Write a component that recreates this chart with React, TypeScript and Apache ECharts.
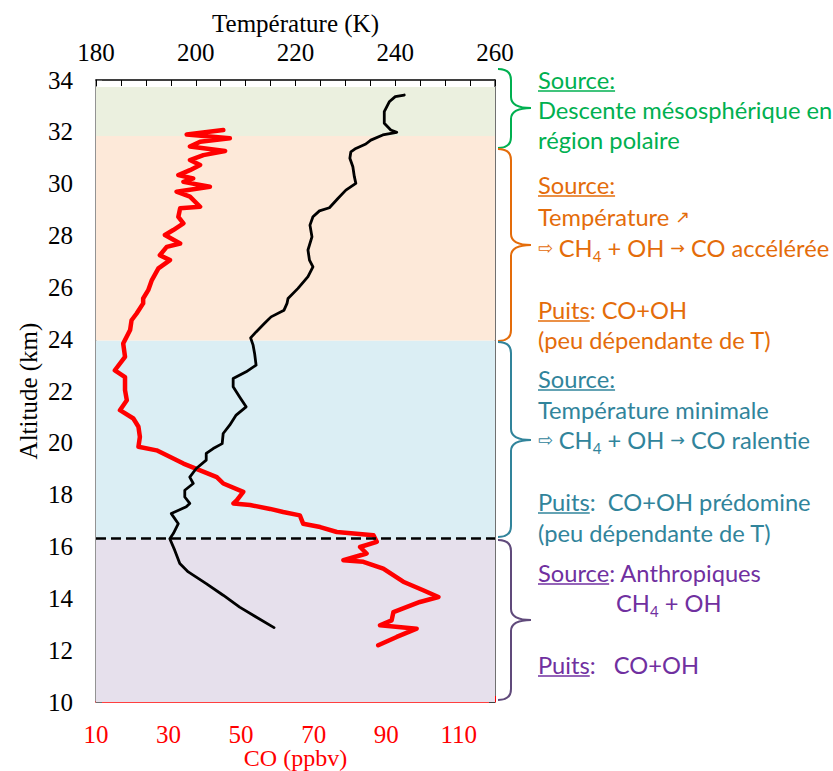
import React, { useEffect, useRef } from "react";
import * as echarts from "echarts";

// ---------------- data ----------------
const temperatureAltitudeKm = [
  33.42, 33.36, 33.16, 32.78, 32.33, 32.07, 31.98, 31.88, 31.68, 31.53, 31.36, 31.23,
  30.98, 30.65, 30.27, 30.01, 29.75, 29.43, 29.07, 28.95, 28.72, 28.4, 27.95, 27.44,
  27.05, 26.79, 26.41, 25.96, 25.57, 25.38, 25.12, 24.86, 24.61, 24.28, 24.05, 23.77,
  23.45, 23.0, 22.74, 22.48, 22.16, 21.77, 21.39, 21.07, 20.68, 20.36, 19.97, 19.78,
  19.59, 19.33, 19.01, 18.68, 18.43, 18.17, 17.91, 17.66, 17.53, 17.27, 16.88, 16.5,
  16.3, 15.85, 15.34, 15.02, 14.57, 14.12, 13.66, 13.28, 12.87,
];
const temperatureK = [
  241.8, 240.0, 238.8, 237.8, 237.8, 239.1, 240.3, 237.5, 235.1, 234.1, 232.1, 231.1,
  230.9, 231.5, 231.8, 232.1, 230.1, 228.5, 226.8, 224.8, 223.5, 222.9, 223.3, 222.5,
  222.8, 223.5, 222.5, 220.5, 218.5, 218.3, 217.7, 215.1, 213.8, 212.1, 211.0, 211.5,
  211.8, 212.1, 210.1, 207.5, 207.5, 208.8, 210.1, 208.1, 206.8, 205.5, 205.3, 203.5,
  202.1, 202.1, 200.1, 198.8, 199.5, 197.8, 197.8, 198.8, 198.1, 195.1, 196.5, 195.5,
  194.8, 195.8, 196.8, 198.5, 202.1, 205.5, 208.8, 212.1, 215.7,
];
const coAltitudeKm = [
  32.07, 31.9, 31.75, 31.62, 31.43, 31.26, 31.1, 30.91, 30.72, 30.52, 30.33, 30.2, 30.07,
  29.88, 29.69, 29.5, 29.11, 29.05, 28.72, 28.47, 28.21, 28.02, 27.69, 27.56, 27.24,
  27.05, 26.73, 26.28, 25.89, 25.57, 25.38, 24.99, 24.73, 24.35, 23.83, 23.32, 22.8,
  22.54, 22.03, 21.64, 21.26, 20.94, 20.62, 20.23, 19.85, 19.71, 19.52, 19.2, 18.94,
  18.68, 18.43, 18.11, 17.78, 17.66, 17.6, 17.45, 17.33, 17.2, 16.88, 16.75, 16.56,
  16.43, 16.18, 15.98, 15.73, 15.47, 15.41, 15.15, 14.64, 14.31, 14.05, 13.86, 13.47,
  13.15, 12.96, 12.83, 12.51, 12.19,
];
const coPpbv = [
  45.1, 35.0, 46.9, 38.7, 35.9, 45.6, 39.6, 35.9, 38.7, 35.9, 32.7, 36.8, 34.1,
  41.4, 32.2, 35.9, 38.7, 33.2, 32.7, 34.1, 31.3, 29.0, 33.2, 29.5, 27.6,
  30.4, 27.2, 25.4, 24.4, 23.0, 23.0, 21.2, 19.8, 19.4, 17.5, 18.0, 15.2,
  18.0, 18.0, 18.5, 16.6, 20.3, 21.7, 22.1, 21.7, 26.7, 29.5, 34.1, 38.7,
  43.3, 45.1, 50.6, 48.8, 47.9, 52.5, 58.0, 61.6, 66.2, 67.1, 71.8, 76.4,
  86.5, 87.4, 82.8, 84.6, 78.2, 83.7, 89.2, 94.7, 100.2, 104.4, 99.3, 92.0,
  91.5, 88.3, 98.4, 92.9, 87.8,
];
const bandBottomKm = [10, 16.27, 23.95, 31.84];
const bandTopKm = [16.27, 23.95, 31.84, 33.73];
const tropopauseKm = 16.33;

const temperatureTickLabels = [180, 200, 220, 240, 260];
const coTickLabels = [10, 30, 50, 70, 90, 110];

type Part = { t: string; u?: boolean; sub?: boolean; a?: boolean };
const annotationLines: { group: number; indent?: boolean; parts: Part[] }[] = [
  { group: 0, parts: [{ t: "Source:", u: true }] },
  { group: 0, parts: [{ t: "Descente mésosphérique en" }] },
  { group: 0, parts: [{ t: "région polaire" }] },
  { group: 1, parts: [{ t: "Source:", u: true }] },
  { group: 1, parts: [{ t: "Température " }, { t: "↗", a: true }] },
  {
    group: 1,
    parts: [
      { t: "⇨", a: true }, { t: " CH" }, { t: "4", sub: true }, { t: " + OH " },
      { t: "→", a: true }, { t: " CO accélérée" },
    ],
  },
  { group: 1, parts: [{ t: "Puits", u: true }, { t: ": CO+OH" }] },
  { group: 1, parts: [{ t: "(peu dépendante de T)" }] },
  { group: 2, parts: [{ t: "Source:", u: true }] },
  { group: 2, parts: [{ t: "Température minimale" }] },
  {
    group: 2,
    parts: [
      { t: "⇨", a: true }, { t: " CH" }, { t: "4", sub: true }, { t: " + OH " },
      { t: "→", a: true }, { t: " CO ralentie" },
    ],
  },
  { group: 2, parts: [{ t: "Puits", u: true }, { t: ":  CO+OH prédomine" }] },
  { group: 2, parts: [{ t: "(peu dépendante de T)" }] },
  { group: 3, parts: [{ t: "Source", u: true }, { t: ": Anthropiques" }] },
  { group: 3, indent: true, parts: [{ t: "CH" }, { t: "4", sub: true }, { t: " + OH" }] },
  { group: 3, parts: [{ t: "Puits", u: true }, { t: ":   CO+OH" }] },
];

// ---------------- layout / styles ----------------
const SERIF = "'Liberation Serif', 'Times New Roman', serif";
const SANS = "Lato, 'Noto Sans', sans-serif";
const ARROW_FONT = "'DejaVu Sans', sans-serif";
const AXIS_FS = 25;
const bandColors = ["#E6E0EC", "#DBEEF4", "#FDE9D9", "#EBF0DF"];
const textColors = ["#00B050", "#E46C0A", "#31849B", "#7030A0"];
const braceColors = ["#00B050", "#E46C0A", "#31849B", "#604A7B"];
const annotationLineY = [80, 110, 140, 185, 217, 248, 310, 340, 379, 410, 440, 502, 533, 573, 603, 665];
const braceTop = [69, 149, 342, 540];
const braceMid = [108, 245, 440, 620];
const braceBottom = [148, 341, 537, 700];
const TEXT_X = 538;
const INDENT_X = 616;
const MAX_LINE_W = 292;

export default function App() {
  const ref = useRef<HTMLDivElement>(null);

  useEffect(() => {
    const el = ref.current!;
    const chart = echarts.init(el, null, { renderer: "svg" });

    const ctx = document.createElement("canvas").getContext("2d")!;
    const measure = (t: string, size: number, family = "Lato") => {
      ctx.font = `${size}px ${family}`;
      return ctx.measureText(t).width;
    };
    const fs = Math.round(((100 * 294) / measure("Descente mésosphérique en", 100)) * 10) / 10;
    const subFs = Math.round(fs * 0.62);
    const partWidth = (p: Part, aFs: number) =>
      p.sub ? measure(p.t, subFs) : p.a ? measure(p.t, aFs, "'DejaVu Sans'") : measure(p.t, fs);
    // largest arrow size for which every line holding an arrow fits
    const arrowLines = annotationLines.filter((l) => l.parts.some((p) => p.a));
    let arrowFs = Math.round(fs * 0.9);
    const widest = () =>
      Math.max(...arrowLines.map((l) => l.parts.reduce((s, p) => s + partWidth(p, arrowFs), 0)));
    while (arrowFs > 12 && widest() > MAX_LINE_W) arrowFs -= 0.5;

    // braces
    const x0 = 498, xm = 511, xp = 531, r = 11;
    const graphics: any[] = [];
    braceTop.forEach((t, i) => {
      const m = braceMid[i], b = braceBottom[i];
      const d = `M ${x0} ${t} Q ${xm} ${t} ${xm} ${t + r} L ${xm} ${m - r} Q ${xm} ${m} ${xp} ${m} Q ${xm} ${m} ${xm} ${m + r} L ${xm} ${b - r} Q ${xm} ${b} ${x0} ${b}`;
      const name = `brace${i}`;
      echarts.graphic.registerShape(name, echarts.graphic.extendPath(d, {}));
      graphics.push({
        type: name,
        silent: true,
        style: { stroke: braceColors[i], fill: "none", lineWidth: 2 },
      });
    });

    annotationLines.forEach((line, i) => {
      const color = textColors[line.group];
      const x = line.indent ? INDENT_X : TEXT_X;
      const y = annotationLineY[i];
      const text = line.parts.map((p) => `{${p.sub ? "s" : p.a ? "a" : "n"}|${p.t}}`).join("");
      graphics.push({
        type: "text",
        x,
        y,
        silent: true,
        style: {
          text,
          fill: color,
          align: "left",
          verticalAlign: "middle",
          textAlign: "left",
          textVerticalAlign: "middle",
          fontFamily: SANS,
          fontSize: fs,
          rich: {
            n: { fontFamily: SANS, fontSize: fs, lineHeight: 30, color, verticalAlign: "middle" },
            a: { fontFamily: ARROW_FONT, fontSize: arrowFs, lineHeight: 30, color, verticalAlign: "middle" },
            s: { fontFamily: SANS, fontSize: subFs, lineHeight: 14, color, verticalAlign: "bottom" },
          },
        },
      });
      let offset = 0;
      line.parts.forEach((p) => {
        const w = partWidth(p, arrowFs);
        if (p.u) {
          graphics.push({
            type: "line",
            silent: true,
            shape: { x1: x + offset, y1: y + 11, x2: x + offset + w, y2: y + 11 },
            style: { stroke: color, lineWidth: 1.5 },
          });
        }
        offset += w;
      });
    });

    const option: any = {
      animation: false,
      backgroundColor: "#ffffff",
      grid: {
        left: 96,
        right: 338,
        top: 80,
        bottom: 69,
        containLabel: false,
        outerBoundsMode: "none",
      },
      xAxis: [
        {
          type: "value",
          position: "top",
          min: 180,
          max: 260,
          interval: 20,
          name: "Température (K)",
          nameLocation: "middle",
          nameGap: 44,
          nameMoveOverlap: false,
          nameTextStyle: { fontFamily: SERIF, fontSize: AXIS_FS, color: "#000" },
          axisLine: { show: true, lineStyle: { color: "#000", width: 1.5 } },
          axisTick: { show: true, inside: true, length: 6, lineStyle: { color: "#000", width: 1 } },
          minorTick: { show: true, splitNumber: 4, length: 6, lineStyle: { color: "#000", width: 1 } },
          axisLabel: {
            fontFamily: SERIF,
            fontSize: AXIS_FS,
            color: "#000",
            margin: 15,
            formatter: (v: number) => (temperatureTickLabels.includes(v) ? String(v) : ""),
          },
          splitLine: { show: false },
        },
        {
          type: "value",
          position: "bottom",
          min: 10,
          max: 120,
          interval: 5,
          name: "CO (ppbv)",
          nameLocation: "middle",
          nameGap: 45,
          nameMoveOverlap: false,
          nameTextStyle: { fontFamily: SERIF, fontSize: 24, lineHeight: 22, color: "#FF0000" },
          axisLine: { show: true, lineStyle: { color: "#FF0000", width: 1.5 } },
          axisTick: { show: true, inside: true, length: 6, lineStyle: { color: "#FF0000", width: 1 } },
          axisLabel: {
            fontFamily: SERIF,
            fontSize: AXIS_FS,
            lineHeight: 24,
            color: "#FF0000",
            margin: 20,
            formatter: (v: number) => (coTickLabels.includes(v) ? String(v) : ""),
          },
          splitLine: { show: false },
        },
      ],
      yAxis: [
        {
          type: "value",
          position: "left",
          min: 10,
          max: 34,
          interval: 2,
          name: "Altitude (km)",
          nameLocation: "middle",
          nameGap: 55,
          nameMoveOverlap: false,
          nameTextStyle: { fontFamily: SERIF, fontSize: AXIS_FS, color: "#000" },
          axisLine: { show: true, lineStyle: { color: "#6f6f6f", width: 1.5 } },
          axisTick: { show: true, inside: true, length: 6, lineStyle: { color: "#6f6f6f", width: 1 } },
          minorTick: { show: true, splitNumber: 4, length: 6, lineStyle: { color: "#6f6f6f", width: 1 } },
          axisLabel: { fontFamily: SERIF, fontSize: AXIS_FS, color: "#000", margin: 23 },
          splitLine: { show: false },
        },
        {
          type: "value",
          position: "right",
          min: 10,
          max: 34,
          interval: 2,
          axisLine: { show: true, lineStyle: { color: "#404040", width: 1.5 } },
          axisTick: { show: true, inside: true, length: 6, lineStyle: { color: "#404040", width: 1 } },
          minorTick: { show: true, splitNumber: 4, length: 6, lineStyle: { color: "#404040", width: 1 } },
          axisLabel: { show: false },
          splitLine: { show: false },
        },
      ],
      series: [
        {
          type: "line",
          name: "bands",
          xAxisIndex: 1,
          yAxisIndex: 0,
          z: 1,
          silent: true,
          showSymbol: false,
          lineStyle: { width: 0, opacity: 0 },
          data: [[10, 10]],
          markArea: {
            silent: true,
            data: bandBottomKm.map((lo, i) => [
              { yAxis: lo, itemStyle: { color: bandColors[i], opacity: 1 } },
              { yAxis: bandTopKm[i] },
            ]),
          },
        },
        {
          type: "line",
          name: "CO",
          xAxisIndex: 1,
          yAxisIndex: 0,
          z: 3,
          showSymbol: false,
          lineStyle: { color: "#FF0000", width: 4.5, join: "round", cap: "round" },
          data: coPpbv.map((v, i) => [v, coAltitudeKm[i]]),
        },
        {
          type: "line",
          name: "Température",
          xAxisIndex: 0,
          yAxisIndex: 0,
          z: 4,
          showSymbol: false,
          lineStyle: { color: "#000000", width: 2.8, join: "round", cap: "round" },
          data: temperatureK.map((v, i) => [v, temperatureAltitudeKm[i]]),
          markLine: {
            silent: true,
            symbol: ["none", "none"],
            label: { show: false },
            lineStyle: { color: "#000", width: 2.5, type: [10, 5] },
            data: [{ yAxis: tropopauseKm }],
          },
        },
      ],
      graphic: graphics,
    };

    chart.setOption(option);
    return () => chart.dispose();
  }, []);

  return (
    <div
      ref={ref}
      style={{ position: "fixed", left: 0, top: 0, width: 833, height: 771, background: "#fff" }}
    />
  );
}
